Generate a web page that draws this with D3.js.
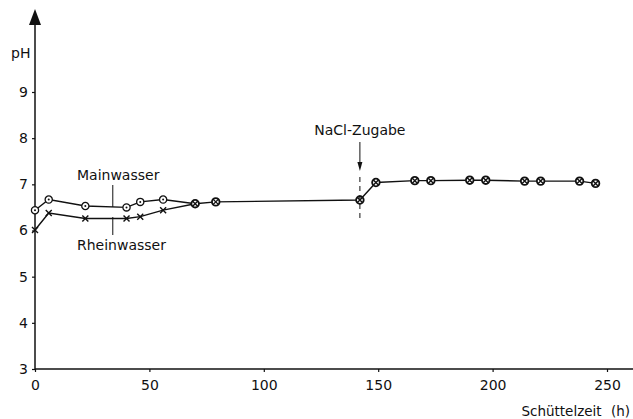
<!DOCTYPE html>
<html>
<head>
<meta charset="utf-8">
<script src="https://cdn.jsdelivr.net/npm/d3@7"></script>
<style>
  body { margin: 0; background: #fff; }
  text { font-family: "DejaVu Sans", sans-serif; fill: #111; }
  .axis text { font-size: 14px; }
  .axis path { display: none; }
  .axis line { stroke: #111; stroke-width: 1.2px; }
</style>
</head>
<body>
<div id="chart"></div>
<script>
// Data ////////////////////////////////////////
// Mainwasser and Rheinwasser before the curves join (~70 h)
var mainTime = [0, 6, 22, 40, 46, 56];
var mainPH   = [6.44, 6.67, 6.53, 6.50, 6.62, 6.67];
var rheinTime = [0, 6, 22, 40, 46, 56];
var rheinPH   = [6.01, 6.38, 6.26, 6.26, 6.30, 6.44];
// both waters together after ~70 h
var bothTime = [70, 79, 142, 149, 166, 173, 190, 197, 214, 221, 238, 245];
var bothPH   = [6.58, 6.62, 6.66, 7.04, 7.08, 7.08, 7.09, 7.09, 7.07, 7.07, 7.07, 7.02];

var xTicks = [0, 50, 100, 150, 200, 250];
var yTicks = [3, 4, 5, 6, 7, 8, 9];
var naclTime = 142;

// Chart config ////////////////////////////////
var width = 633, height = 419;

var x = d3.scaleLinear().domain([0, 250]).range([35, 607]);
var y = d3.scaleLinear().domain([3, 9]).range([369, 92]);

var svg = d3.select("#chart").append("svg")
  .attr("width", width)
  .attr("height", height);

function zip(ts, vs) {
  return ts.map(function(t, i) { return {t: t, v: vs[i]}; });
}
var mainData = zip(mainTime, mainPH).concat(zip(bothTime, bothPH));
var rheinData = zip(rheinTime, rheinPH).concat([{t: bothTime[0], v: bothPH[0]}]);
var bothData = zip(bothTime, bothPH);

// axes
svg.append("g").attr("class", "axis")
  .attr("transform", "translate(" + x(0) + ",0)")
  .call(d3.axisLeft(y).tickValues(yTicks).tickSize(3).tickPadding(4).tickFormat(d3.format("d")));

svg.append("g").attr("class", "axis")
  .attr("transform", "translate(0," + y(3) + ")")
  .call(d3.axisBottom(x).tickValues(xTicks).tickSize(3).tickPadding(8).tickFormat(d3.format("d")));

// y axis line with arrow head
svg.append("line")
  .attr("x1", x(0)).attr("x2", x(0))
  .attr("y1", y(3)).attr("y2", 20)
  .style("stroke", "#111").style("stroke-width", 1.5);
svg.append("path")
  .attr("d", "M" + x(0) + ",9 L" + (x(0) - 6) + ",25 L" + (x(0) + 6) + ",25 Z")
  .style("fill", "#111");

// x axis line
svg.append("line")
  .attr("x1", x(0)).attr("x2", width)
  .attr("y1", y(3)).attr("y2", y(3))
  .style("stroke", "#111").style("stroke-width", 1.5);

svg.append("text").attr("x", 11).attr("y", 58)
  .style("font-size", "14px").text("pH");

svg.append("text").attr("x", 630).attr("y", 416)
  .attr("text-anchor", "end")
  .style("font-size", "13.5px").style("word-spacing", "5px")
  .text("Schüttelzeit (h)");

// lines
var line = d3.line()
  .x(function(d) { return x(d.t); })
  .y(function(d) { return y(d.v); });

[mainData, rheinData].forEach(function(data) {
  svg.append("path").datum(data)
    .attr("d", line)
    .style("fill", "none")
    .style("stroke", "#111")
    .style("stroke-width", 1.4);
});

// markers: Mainwasser = circle with dot
var mainMarks = svg.selectAll(".mm").data(zip(mainTime, mainPH)).enter().append("g")
  .attr("transform", function(d) { return "translate(" + x(d.t) + "," + y(d.v) + ")"; });
mainMarks.append("circle").attr("r", 3.6)
  .style("fill", "#fff").style("stroke", "#111").style("stroke-width", 1.3);
mainMarks.append("circle").attr("r", 1).style("fill", "#111");

// Rheinwasser = cross
svg.selectAll(".rm").data(zip(rheinTime, rheinPH)).enter().append("path")
  .attr("transform", function(d) { return "translate(" + x(d.t) + "," + y(d.v) + ")"; })
  .attr("d", "M-3,-3L3,3M-3,3L3,-3")
  .style("stroke", "#111").style("stroke-width", 1.4);

// both = circle with cross
var bothMarks = svg.selectAll(".bm").data(bothData).enter().append("g")
  .attr("transform", function(d) { return "translate(" + x(d.t) + "," + y(d.v) + ")"; });
bothMarks.append("circle").attr("r", 3.8)
  .style("fill", "#fff").style("stroke", "#111").style("stroke-width", 1.8);
bothMarks.append("path").attr("d", "M-2.5,-2.5L2.5,2.5M-2.5,2.5L2.5,-2.5")
  .style("stroke", "#111").style("stroke-width", 1.4);

// series labels with pointer lines
var labelX = x(34);
svg.append("text").attr("x", 77).attr("y", 180)
  .style("font-size", "14px").text("Mainwasser");
svg.append("line").attr("x1", labelX).attr("x2", labelX)
  .attr("y1", 185).attr("y2", 207)
  .style("stroke", "#111").style("stroke-width", 1);
svg.append("text").attr("x", 77).attr("y", 250)
  .style("font-size", "14px").text("Rheinwasser");
svg.append("line").attr("x1", labelX).attr("x2", labelX)
  .attr("y1", 217).attr("y2", 235)
  .style("stroke", "#111").style("stroke-width", 1);

// NaCl annotation
var nx = x(naclTime);
svg.append("text").attr("x", nx).attr("y", 135)
  .attr("text-anchor", "middle")
  .style("font-size", "14px").text("NaCl-Zugabe");
svg.append("line").attr("x1", nx).attr("x2", nx)
  .attr("y1", 142).attr("y2", 163)
  .style("stroke", "#111").style("stroke-width", 1);
svg.append("path")
  .attr("d", "M" + nx + ",171 L" + (nx - 2.5) + ",162 L" + (nx + 2.5) + ",162 Z")
  .style("fill", "#111");
svg.append("line").attr("x1", nx).attr("x2", nx)
  .attr("y1", 177).attr("y2", 221)
  .style("stroke", "#111").style("stroke-width", 1)
  .style("stroke-dasharray", "5,4");
</script>
</body>
</html>
